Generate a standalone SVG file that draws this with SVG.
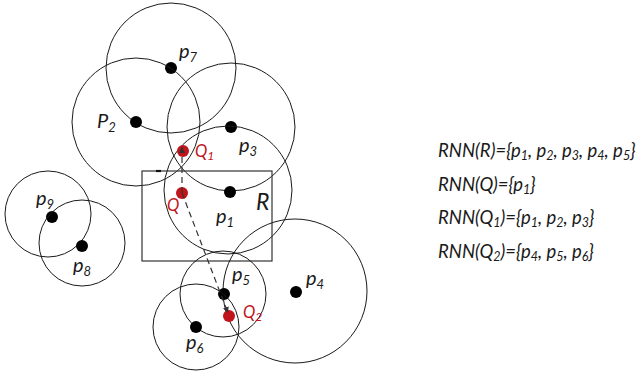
<svg xmlns="http://www.w3.org/2000/svg" width="641" height="374" viewBox="0 0 641 374">
<defs>
<style>
.ring{fill:none;stroke:#1a1a1a;stroke-width:1}
.dot{fill:#000}
.qdot{fill:#c0151b}
.lbl{font-family:Lato,"Liberation Sans",sans-serif;font-style:italic;font-size:20px;fill:#1a1a1a}
.qlbl{font-family:Lato,"Liberation Sans",sans-serif;font-style:italic;font-size:16.5px;fill:#c0151b}
.sub{font-size:13px}
.qlbl .sub{font-size:12px}
.leg{font-family:Lato,"Liberation Sans",sans-serif;font-style:italic;font-size:18.5px;fill:#1a1a1a}
.leg .sub{font-size:12.5px}
.dash{fill:none;stroke:#333;stroke-width:1.2;stroke-dasharray:6 4}
</style>
<marker id="ah" viewBox="0 0 10 10" refX="10" refY="5" markerWidth="6" markerHeight="8" markerUnits="userSpaceOnUse" orient="auto">
<path d="M0,0 L10,5 L0,10 z" fill="#333"/>
</marker>
</defs>
<rect width="641" height="374" fill="#fff"/>

<g id="p7"><circle class="ring" cx="171" cy="68" r="65"/><circle class="dot" cx="171" cy="68" r="6"/><text class="lbl" x="179" y="58">p<tspan class="sub" dy="4">7</tspan></text></g>
<g id="p2"><circle class="ring" cx="136" cy="122" r="64"/><circle class="dot" cx="136" cy="122" r="6"/><text class="lbl" x="97" y="128">P<tspan class="sub" dy="4">2</tspan></text></g>
<g id="p3"><circle class="ring" cx="231" cy="127" r="64"/><circle class="dot" cx="231" cy="127" r="6"/><text class="lbl" x="239" y="152">p<tspan class="sub" dy="4">3</tspan></text></g>
<g id="p1"><circle class="ring" cx="228" cy="190" r="64"/><circle class="dot" cx="230" cy="192" r="6"/><text class="lbl" x="216" y="223">p<tspan class="sub" dy="4">1</tspan></text></g>
<g id="R"><rect x="142" y="171" width="130" height="90" fill="none" stroke="#333" stroke-width="1.2"/><line x1="156" y1="171" x2="161" y2="171" stroke="#111" stroke-width="2.2"/><text class="lbl" x="256" y="210" style="font-size:23px">R</text></g>
<g id="p4"><circle class="ring" cx="295" cy="291" r="72"/><circle class="dot" cx="296" cy="292" r="6"/><text class="lbl" x="306" y="285">p<tspan class="sub" dy="4">4</tspan></text></g>
<g id="p5"><circle class="ring" cx="223" cy="294" r="43"/><circle class="dot" cx="224" cy="294" r="6"/><text class="lbl" x="232" y="281">p<tspan class="sub" dy="4">5</tspan></text></g>
<g id="p6"><circle class="ring" cx="196" cy="327" r="43"/><circle class="dot" cx="196" cy="327" r="6"/><text class="lbl" x="186" y="349">p<tspan class="sub" dy="4">6</tspan></text></g>
<g id="p9"><circle class="ring" cx="48" cy="214" r="43"/><circle class="dot" cx="52" cy="217" r="6"/><text class="lbl" x="36" y="205">p<tspan class="sub" dy="4">9</tspan></text></g>
<g id="p8"><circle class="ring" cx="82" cy="243" r="43"/><circle class="dot" cx="82" cy="246" r="6"/><text class="lbl" x="73" y="272">p<tspan class="sub" dy="4">8</tspan></text></g>

<g id="Q1"><circle class="qdot" cx="183" cy="151" r="6"/><text class="qlbl" x="195" y="157">Q<tspan class="sub" dy="3">1</tspan></text></g>
<g id="Q"><circle class="qdot" cx="182" cy="193" r="6"/><text class="qlbl" x="167" y="211">Q</text></g>
<g id="Q2"><circle class="qdot" cx="229" cy="316" r="6"/><text class="qlbl" x="243" y="318">Q<tspan class="sub" dy="3">2</tspan></text></g>

<g id="connectors">
<line class="dash" x1="182" y1="193" x2="182" y2="147" marker-end="url(#ah)"/>
<line class="dash" x1="182" y1="193" x2="228" y2="313" marker-end="url(#ah)"/>
</g>

<g id="legend">
<text class="leg" x="438" y="157">RNN(R)={p<tspan class="sub" dy="3">1</tspan><tspan dy="-3">, p</tspan><tspan class="sub" dy="3">2</tspan><tspan dy="-3">, p</tspan><tspan class="sub" dy="3">3</tspan><tspan dy="-3">, p</tspan><tspan class="sub" dy="3">4</tspan><tspan dy="-3">, p</tspan><tspan class="sub" dy="3">5</tspan><tspan dy="-3">}</tspan></text>
<text class="leg" x="438" y="191">RNN(Q)={p<tspan class="sub" dy="3">1</tspan><tspan dy="-3">}</tspan></text>
<text class="leg" x="438" y="224">RNN(Q<tspan class="sub" dy="3">1</tspan><tspan dy="-3">)={p</tspan><tspan class="sub" dy="3">1</tspan><tspan dy="-3">, p</tspan><tspan class="sub" dy="3">2</tspan><tspan dy="-3">, p</tspan><tspan class="sub" dy="3">3</tspan><tspan dy="-3">}</tspan></text>
<text class="leg" x="438" y="258">RNN(Q<tspan class="sub" dy="3">2</tspan><tspan dy="-3">)={p</tspan><tspan class="sub" dy="3">4</tspan><tspan dy="-3">, p</tspan><tspan class="sub" dy="3">5</tspan><tspan dy="-3">, p</tspan><tspan class="sub" dy="3">6</tspan><tspan dy="-3">}</tspan></text>
</g>
</svg>
